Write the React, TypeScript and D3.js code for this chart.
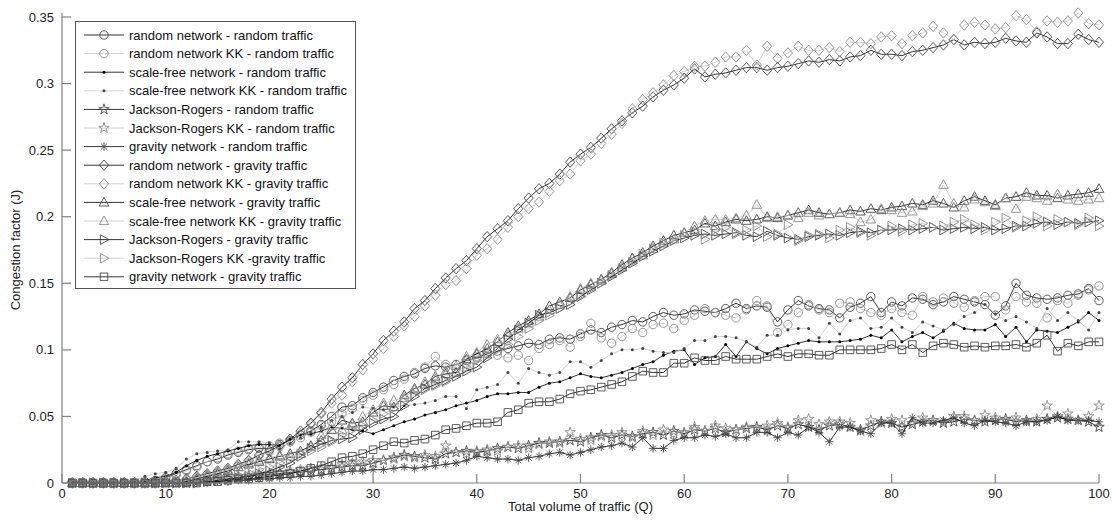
import React from "react";
import * as d3 from "d3";

const W = 1116;
const H = 523;

// Total volume of traffic (Q)
const qValues = d3.range(1, 101);

const xTicks = [0, 10, 20, 30, 40, 50, 60, 70, 80, 90, 100];
const yTicks = [0, 0.05, 0.1, 0.15, 0.2, 0.25, 0.3, 0.35];

const randomRandom = [
  0,0,0,0,0,0,0,0.001,0.002,0.004,
  0.007,0.010,0.013,0.016,0.018,0.021,0.023,0.025,0.026,0.026,
  0.029,0.032,0.036,0.039,0.044,0.050,0.057,0.058,0.064,0.068,
  0.072,0.077,0.080,0.082,0.086,0.088,0.087,0.089,0.092,0.094,
  0.097,0.099,0.101,0.103,0.105,0.104,0.108,0.109,0.108,0.112,
  0.115,0.113,0.117,0.119,0.122,0.121,0.125,0.128,0.126,0.127,
  0.130,0.129,0.128,0.131,0.135,0.131,0.133,0.132,0.121,0.130,
  0.137,0.133,0.131,0.130,0.124,0.132,0.135,0.140,0.128,0.136,
  0.133,0.139,0.138,0.134,0.136,0.140,0.138,0.136,0.134,0.126,
  0.133,0.150,0.141,0.139,0.138,0.139,0.141,0.142,0.146,0.137,
];
const randomKKRandom = [
  0,0,0,0,0,0,0,0,0.001,0.003,
  0.006,0.009,0.012,0.016,0.019,0.022,0.024,0.026,0.027,0.028,
  0.030,0.031,0.034,0.038,0.043,0.046,0.052,0.056,0.062,0.066,
  0.070,0.074,0.078,0.083,0.087,0.095,0.089,0.086,0.090,0.095,
  0.098,0.096,0.094,0.096,0.092,0.101,0.104,0.107,0.102,0.110,
  0.120,0.109,0.105,0.110,0.116,0.113,0.119,0.120,0.116,0.122,
  0.126,0.131,0.128,0.126,0.124,0.130,0.137,0.133,0.113,0.119,
  0.128,0.134,0.130,0.128,0.135,0.136,0.131,0.128,0.126,0.131,
  0.128,0.126,0.140,0.136,0.139,0.135,0.132,0.137,0.140,0.140,
  0.130,0.140,0.136,0.135,0.124,0.137,0.135,0.141,0.145,0.148,
];
const scaleFreeRandom = [
  0,0,0,0,0,0,0,0.002,0.004,0.005,
  0.008,0.013,0.017,0.020,0.022,0.024,0.026,0.028,0.029,0.029,
  0.028,0.033,0.036,0.037,0.039,0.042,0.041,0.040,0.039,0.037,
  0.040,0.043,0.046,0.048,0.051,0.053,0.055,0.058,0.060,0.062,
  0.065,0.067,0.067,0.068,0.068,0.072,0.075,0.076,0.079,0.082,
  0.080,0.079,0.081,0.083,0.086,0.089,0.091,0.096,0.099,0.100,
  0.089,0.094,0.095,0.104,0.095,0.106,0.101,0.097,0.101,0.103,
  0.105,0.107,0.106,0.106,0.106,0.107,0.108,0.111,0.109,0.115,
  0.106,0.110,0.113,0.109,0.114,0.120,0.116,0.115,0.115,0.119,
  0.110,0.117,0.106,0.115,0.114,0.113,0.117,0.121,0.128,0.122,
];
const scaleFreeKKRandom = [
  0,0,0,0,0,0,0.002,0.005,0.007,0.008,
  0.011,0.018,0.022,0.023,0.024,0.025,0.031,0.031,0.031,0.030,
  0.026,0.030,0.034,0.038,0.042,0.047,0.050,0.053,0.057,0.056,
  0.055,0.057,0.058,0.059,0.060,0.062,0.065,0.065,0.056,0.070,
  0.072,0.074,0.083,0.075,0.086,0.083,0.081,0.083,0.091,0.091,
  0.087,0.092,0.097,0.100,0.100,0.101,0.099,0.098,0.098,0.101,
  0.107,0.107,0.110,0.110,0.109,0.106,0.102,0.111,0.111,0.115,
  0.116,0.116,0.109,0.120,0.112,0.122,0.124,0.116,0.117,0.124,
  0.117,0.113,0.121,0.118,0.115,0.119,0.125,0.128,0.134,0.127,
  0.122,0.125,0.121,0.116,0.131,0.122,0.128,0.122,0.115,0.128,
];
const jacksonRandom = [
  0,0,0,0,0,0,0,0,0,0,
  0,0,0.001,0.002,0.003,0.003,0.004,0.005,0.006,0.006,
  0.007,0.008,0.008,0.009,0.010,0.011,0.012,0.013,0.013,0.015,
  0.017,0.019,0.021,0.020,0.019,0.018,0.022,0.023,0.024,0.023,
  0.024,0.026,0.027,0.026,0.028,0.030,0.030,0.031,0.032,0.031,
  0.034,0.036,0.034,0.036,0.035,0.037,0.038,0.036,0.039,0.037,
  0.040,0.039,0.041,0.038,0.040,0.041,0.042,0.040,0.043,0.041,
  0.044,0.042,0.040,0.043,0.044,0.042,0.040,0.043,0.046,0.045,
  0.042,0.044,0.046,0.047,0.045,0.046,0.048,0.047,0.046,0.047,
  0.048,0.046,0.047,0.046,0.048,0.049,0.048,0.047,0.046,0.042,
];
const jacksonKKRandom = [
  0,0,0,0,0,0,0,0,0,0,
  0,0,0.001,0.002,0.003,0.004,0.005,0.006,0.007,0.007,
  0.008,0.009,0.010,0.011,0.012,0.012,0.014,0.015,0.016,0.017,
  0.017,0.018,0.020,0.019,0.021,0.020,0.028,0.023,0.022,0.024,
  0.025,0.024,0.027,0.028,0.026,0.029,0.031,0.030,0.038,0.033,
  0.032,0.035,0.036,0.038,0.034,0.039,0.036,0.040,0.037,0.038,
  0.042,0.039,0.043,0.041,0.040,0.042,0.041,0.043,0.045,0.042,
  0.047,0.048,0.044,0.046,0.046,0.045,0.039,0.047,0.045,0.048,
  0.047,0.045,0.049,0.047,0.046,0.050,0.050,0.047,0.051,0.049,
  0.047,0.049,0.046,0.048,0.058,0.050,0.052,0.047,0.050,0.058,
];
const gravityRandom = [
  0,0,0,0,0,0,0,0,0,0,
  0,0,0,0,0.001,0.001,0.002,0.002,0.003,0.003,
  0.004,0.004,0.005,0.005,0.006,0.007,0.008,0.009,0.009,0.010,
  0.010,0.011,0.012,0.011,0.012,0.013,0.014,0.015,0.017,0.020,
  0.019,0.018,0.018,0.017,0.019,0.020,0.022,0.023,0.021,0.023,
  0.025,0.027,0.028,0.030,0.027,0.034,0.026,0.026,0.032,0.034,
  0.034,0.036,0.035,0.037,0.034,0.034,0.038,0.038,0.034,0.038,
  0.036,0.042,0.038,0.031,0.042,0.042,0.039,0.037,0.045,0.045,
  0.037,0.049,0.045,0.045,0.047,0.049,0.045,0.043,0.047,0.046,
  0.045,0.043,0.046,0.046,0.047,0.050,0.047,0.047,0.047,0.046,
];
const randomGravity = [
  0,0,0,0,0,0,0,0,0,0.001,
  0.002,0.003,0.005,0.007,0.009,0.011,0.014,0.017,0.021,0.024,
  0.028,0.033,0.039,0.045,0.053,0.063,0.072,0.079,0.089,0.097,
  0.107,0.114,0.121,0.131,0.137,0.146,0.154,0.161,0.167,0.176,
  0.185,0.191,0.197,0.206,0.214,0.221,0.225,0.232,0.241,0.247,
  0.252,0.259,0.266,0.272,0.278,0.283,0.290,0.295,0.299,0.304,
  0.311,0.305,0.307,0.308,0.310,0.312,0.312,0.310,0.312,0.313,
  0.315,0.317,0.316,0.318,0.317,0.320,0.321,0.325,0.322,0.322,
  0.321,0.324,0.325,0.327,0.329,0.333,0.329,0.331,0.330,0.331,
  0.334,0.332,0.331,0.338,0.335,0.330,0.330,0.337,0.333,0.331,
];
const randomKKGravity = [
  0,0,0,0,0,0,0,0,0,0.001,
  0.002,0.003,0.004,0.006,0.008,0.010,0.013,0.016,0.020,0.023,
  0.027,0.031,0.037,0.044,0.052,0.060,0.066,0.076,0.085,0.093,
  0.101,0.110,0.118,0.125,0.133,0.141,0.149,0.152,0.161,0.171,
  0.176,0.183,0.192,0.200,0.206,0.211,0.219,0.227,0.232,0.242,
  0.247,0.255,0.262,0.270,0.281,0.288,0.293,0.299,0.306,0.309,
  0.313,0.313,0.316,0.320,0.320,0.325,0.314,0.328,0.319,0.323,
  0.328,0.325,0.325,0.327,0.324,0.331,0.331,0.330,0.335,0.336,
  0.330,0.336,0.338,0.343,0.338,0.333,0.344,0.346,0.344,0.341,
  0.342,0.351,0.348,0.339,0.347,0.346,0.347,0.353,0.345,0.344,
];
const scaleFreeGravity = [
  0,0,0,0,0,0,0,0,0,0,
  0,0.001,0.003,0.005,0.007,0.009,0.012,0.014,0.016,0.018,
  0.020,0.022,0.024,0.028,0.032,0.040,0.047,0.045,0.046,0.053,
  0.058,0.057,0.066,0.071,0.074,0.080,0.082,0.083,0.093,0.097,
  0.101,0.106,0.113,0.118,0.122,0.127,0.133,0.136,0.139,0.145,
  0.149,0.153,0.158,0.164,0.169,0.173,0.178,0.182,0.186,0.188,
  0.190,0.195,0.193,0.196,0.198,0.197,0.198,0.200,0.199,0.201,
  0.203,0.205,0.203,0.202,0.203,0.205,0.204,0.206,0.205,0.207,
  0.208,0.210,0.209,0.212,0.210,0.207,0.212,0.215,0.212,0.209,
  0.214,0.215,0.218,0.216,0.216,0.214,0.216,0.217,0.218,0.221,
];
const scaleFreeKKGravity = [
  0,0,0,0,0,0,0,0,0,0,
  0,0.002,0.004,0.006,0.008,0.010,0.012,0.015,0.017,0.019,
  0.021,0.020,0.022,0.027,0.036,0.043,0.040,0.044,0.050,0.055,
  0.060,0.062,0.064,0.070,0.076,0.078,0.084,0.088,0.095,0.098,
  0.104,0.108,0.111,0.116,0.120,0.125,0.130,0.134,0.140,0.146,
  0.150,0.152,0.157,0.162,0.168,0.171,0.176,0.180,0.183,0.188,
  0.193,0.197,0.198,0.198,0.199,0.201,0.209,0.199,0.200,0.201,
  0.199,0.203,0.201,0.202,0.203,0.202,0.196,0.198,0.206,0.205,
  0.203,0.204,0.208,0.210,0.224,0.210,0.207,0.213,0.211,0.208,
  0.214,0.206,0.215,0.214,0.212,0.217,0.213,0.212,0.213,0.214,
];
const jacksonGravity = [
  0,0,0,0,0,0,0,0,0,0,
  0,0,0,0.001,0.002,0.003,0.004,0.005,0.007,0.009,
  0.012,0.015,0.020,0.026,0.029,0.032,0.033,0.034,0.040,0.045,
  0.048,0.050,0.058,0.065,0.071,0.074,0.077,0.080,0.084,0.087,
  0.094,0.101,0.108,0.115,0.120,0.126,0.128,0.131,0.134,0.140,
  0.145,0.150,0.155,0.160,0.165,0.170,0.174,0.178,0.182,0.184,
  0.186,0.187,0.186,0.187,0.188,0.186,0.185,0.189,0.186,0.184,
  0.183,0.185,0.186,0.187,0.186,0.188,0.189,0.188,0.190,0.190,
  0.191,0.190,0.191,0.192,0.190,0.191,0.192,0.191,0.192,0.190,
  0.191,0.193,0.193,0.195,0.196,0.194,0.196,0.195,0.196,0.197,
];
const jacksonKKGravity = [
  0,0,0,0,0,0,0,0,0,0,
  0,0,0,0.001,0.003,0.004,0.006,0.008,0.010,0.012,
  0.015,0.018,0.022,0.024,0.027,0.031,0.036,0.040,0.043,0.047,
  0.052,0.056,0.061,0.067,0.070,0.073,0.076,0.082,0.087,0.092,
  0.096,0.100,0.104,0.110,0.116,0.122,0.126,0.131,0.136,0.141,
  0.146,0.150,0.156,0.161,0.166,0.172,0.176,0.180,0.182,0.186,
  0.189,0.183,0.190,0.192,0.187,0.190,0.193,0.185,0.187,0.194,
  0.182,0.186,0.187,0.184,0.190,0.192,0.188,0.186,0.190,0.193,
  0.189,0.194,0.195,0.192,0.193,0.196,0.198,0.194,0.190,0.196,
  0.199,0.192,0.197,0.200,0.193,0.198,0.196,0.194,0.199,0.193,
];
const gravityGravity = [
  0,0,0,0,0,0,0,0,0,0,
  0,0,0,0.001,0.001,0.002,0.003,0.003,0.004,0.005,
  0.006,0.007,0.009,0.011,0.013,0.016,0.019,0.020,0.022,0.025,
  0.028,0.031,0.030,0.032,0.033,0.036,0.040,0.041,0.043,0.045,
  0.045,0.046,0.053,0.055,0.060,0.061,0.061,0.063,0.067,0.069,
  0.070,0.072,0.074,0.076,0.080,0.084,0.083,0.083,0.090,0.090,
  0.094,0.092,0.092,0.095,0.093,0.093,0.093,0.095,0.097,0.095,
  0.097,0.097,0.096,0.096,0.100,0.100,0.100,0.100,0.101,0.104,
  0.100,0.104,0.098,0.103,0.105,0.104,0.102,0.103,0.102,0.103,
  0.103,0.104,0.102,0.105,0.111,0.099,0.105,0.103,0.106,0.106,
];

const seriesNames = [
  "random network - random traffic",
  "random network KK - random traffic",
  "scale-free network - random traffic",
  "scale-free network KK - random traffic",
  "Jackson-Rogers - random traffic",
  "Jackson-Rogers KK - random traffic",
  "gravity network - random traffic",
  "random network - gravity traffic",
  "random network KK - gravity traffic",
  "scale-free network - gravity traffic",
  "scale-free network KK - gravity traffic",
  "Jackson-Rogers - gravity traffic",
  "Jackson-Rogers KK -gravity traffic",
  "gravity network - gravity traffic",
];
const seriesValues = [
  randomRandom, randomKKRandom, scaleFreeRandom, scaleFreeKKRandom,
  jacksonRandom, jacksonKKRandom, gravityRandom, randomGravity,
  randomKKGravity, scaleFreeGravity, scaleFreeKKGravity, jacksonGravity,
  jacksonKKGravity, gravityGravity,
];
const seriesMarkers = [
  "circle", "circle", "dot", "dot", "star", "star", "asterisk",
  "diamond", "diamond", "triUp", "triUp", "triRight", "triRight", "square",
];
const seriesIsKK = [false, true, false, true, false, true, false, false, true, false, true, false, true, false];

const FONT = "'Liberation Sans', Arial, sans-serif";

function markerPath(kind: string): string {
  switch (kind) {
    case "circle": {
      const p = d3.path();
      p.arc(0, 0, 4.2, 0, Math.PI * 2);
      return p.toString();
    }
    case "star":
      return d3.symbol(d3.symbolStar, 34)() as string;
    case "asterisk": {
      const r = 4.2;
      const a = r * Math.SQRT1_2;
      return `M${-r},0L${r},0M0,${-r}L0,${r}M${-a},${-a}L${a},${a}M${-a},${a}L${a},${-a}`;
    }
    case "diamond":
      return "M0,-5.2L4.6,0L0,5.2L-4.6,0Z";
    case "triUp":
      return "M0,-5L4.8,3.6L-4.8,3.6Z";
    case "triRight":
      return "M5,0L-3.6,-4.8L-3.6,4.8Z";
    case "square":
      return "M-3.8,-3.8L3.8,-3.8L3.8,3.8L-3.8,3.8Z";
    default:
      return "";
  }
}

function Marker({ kind, kk, x, y }: { kind: string; kk: boolean; x: number; y: number }) {
  if (kind === "dot") {
    return <circle cx={x} cy={y} r={1.5} fill={kk ? "#444" : "#000"} />;
  }
  return (
    <path
      d={markerPath(kind)}
      transform={`translate(${x},${y})`}
      fill="none"
      stroke={kk ? "#8a8a8a" : "#4a4a4a"}
      strokeWidth={0.9}
    />
  );
}

export default function App() {
  const left = 62, right = 1099, top = 17, bottom = 483;
  const x = d3.scaleLinear().domain([0, 100]).range([left, right]);
  const y = d3.scaleLinear().domain([0, 0.35]).range([bottom, top]);
  const line = d3
    .line<number>()
    .x((_, i) => x(qValues[i]))
    .y((d) => y(d));

  const legX = 75.5, legY = 21.5, legW = 280, legH = 267;
  const rowH = 18.6;

  return (
    <svg
      width={W}
      height={H}
      style={{ position: "absolute", left: 0, top: 0, background: "#fff" }}
      fontFamily={FONT}
    >
      <rect x={0} y={0} width={W} height={H} fill="#fff" />
      {/* series */}
      {seriesValues.map((vals, si) => (
        <g key={si}>
          <path
            d={line(vals) as string}
            fill="none"
            stroke={seriesIsKK[si] ? "#c4c4c4" : "#000"}
            strokeWidth={0.8}
          />
          {vals.map((v, i) => (
            <Marker key={i} kind={seriesMarkers[si]} kk={seriesIsKK[si]} x={x(qValues[i])} y={y(v)} />
          ))}
        </g>
      ))}
      {/* axes */}
      <g stroke="#808080" strokeWidth={1.2} fill="none">
        <line x1={left} y1={top - 4} x2={left} y2={bottom} />
        <line x1={left} y1={bottom} x2={right} y2={bottom} />
        {yTicks.map((t) => (
          <line key={t} x1={left} y1={y(t)} x2={left + 9} y2={y(t)} />
        ))}
        {xTicks.map((t) => (
          <line key={t} x1={x(t)} y1={bottom} x2={x(t)} y2={bottom - 9} />
        ))}
      </g>
      <g fontSize={13} fill="#222">
        {yTicks.map((t) => (
          <text key={t} x={left - 8} y={y(t)} dy="0.35em" textAnchor="end">
            {d3.format("")(t)}
          </text>
        ))}
        {xTicks.map((t) => (
          <text key={t} x={x(t)} y={bottom + 15} textAnchor="middle">
            {t}
          </text>
        ))}
        <text x={(left + right) / 2} y={511} textAnchor="middle">
          Total volume of traffic (Q)
        </text>
        <text transform={`translate(20,${(top + bottom) / 2}) rotate(-90)`} textAnchor="middle">
          Congestion factor (J)
        </text>
      </g>
      {/* legend */}
      <g>
        <rect x={legX} y={legY} width={legW} height={legH} fill="#fff" stroke="#555" strokeWidth={1} />
        {seriesNames.map((name, i) => {
          const cy = 35 + i * rowH;
          return (
            <g key={i}>
              <line
                x1={84}
                x2={124}
                y1={cy}
                y2={cy}
                stroke={seriesIsKK[i] ? "#c4c4c4" : "#000"}
                strokeWidth={0.8}
              />
              <Marker kind={seriesMarkers[i]} kk={seriesIsKK[i]} x={104} y={cy} />
              <text x={129} y={cy} dy="0.35em" fontSize={13} fill="#111">
                {name}
              </text>
            </g>
          );
        })}
      </g>
    </svg>
  );
}
